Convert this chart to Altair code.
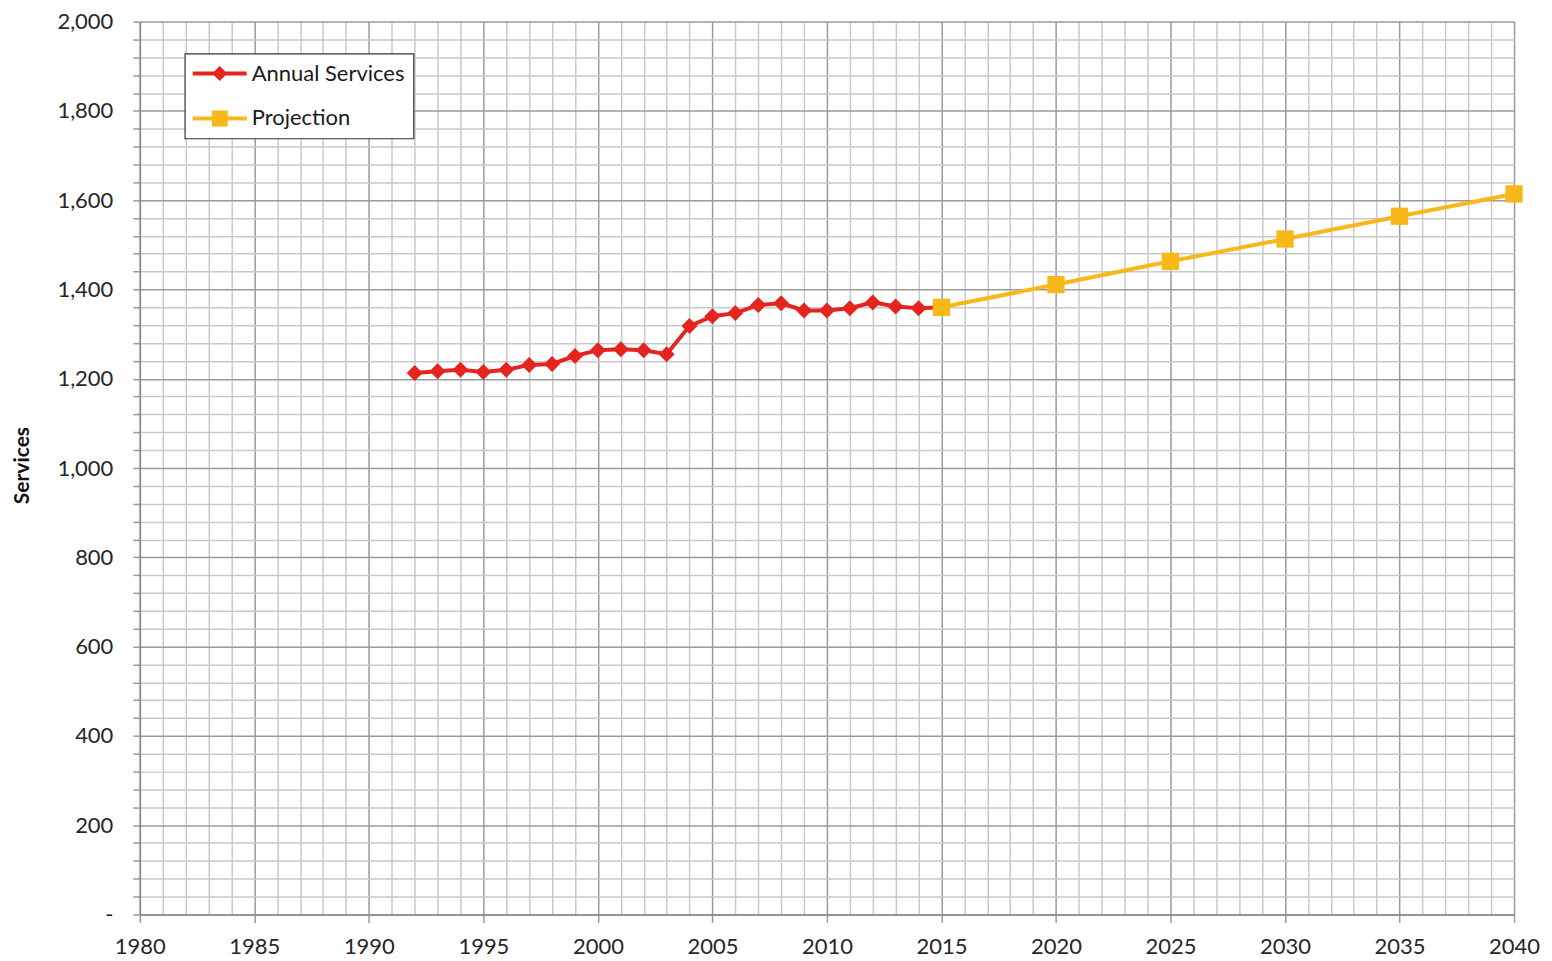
import altair as alt
import pandas as pd

# ---- data ----
annual_years = list(range(1992, 2016))
annual_values = [1213, 1217, 1220, 1215, 1220, 1231, 1233, 1251, 1264, 1266, 1264, 1255,
                 1318, 1340, 1347, 1365, 1369, 1353, 1353, 1358, 1371, 1362, 1358, 1360]
proj_years = [2015, 2020, 2025, 2030, 2035, 2040]
proj_values = [1360, 1411, 1463, 1513, 1564, 1614]
series_names = ["Annual Services", "Projection"]
series_colors = ["#E5231F", "#F8B81A"]

annual = pd.DataFrame({"year": annual_years, "value": annual_values, "series": series_names[0]})
proj = pd.DataFrame({"year": proj_years, "value": proj_values, "series": series_names[1]})
df = pd.concat([annual, proj], ignore_index=True)

FONT = "Lato"
MAJOR = "#9a9a9a"
MINOR = "#c9c9c9"

x_axis = alt.Axis(
    values=list(range(1980, 2041)),
    labelExpr="datum.value % 5 == 0 ? datum.value : ''",
    labelOverlap=False, labelFlush=False,
    labelFont=FONT, labelFontSize=22, labelColor="#262626", labelPadding=14,
    tickColor=MAJOR, tickWidth=1.5,
    tickSize={"condition": {"test": "datum.value % 5 == 0", "value": 8}, "value": 0},
    domainColor="#888", domainWidth=1.5,
    gridColor={"condition": {"test": "datum.value % 5 == 0", "value": MAJOR}, "value": MINOR},
    gridWidth=1.5, title=None,
)
y_axis = alt.Axis(
    values=list(range(0, 2001, 40)),
    labelExpr="datum.value % 200 == 0 ? (datum.value == 0 ? '-' : format(datum.value, ',')) : ''",
    labelOverlap=False, labelFlush=False,
    labelFont=FONT, labelFontSize=22, labelColor="#262626", labelPadding=20,
    tickColor=MAJOR, tickWidth=1.5, tickSize=7,
    domainColor="#888", domainWidth=1.5,
    gridColor={"condition": {"test": "datum.value % 200 == 0", "value": MAJOR}, "value": MINOR},
    gridWidth=1.5,
    title="Services", titleFont=FONT, titleFontSize=21, titleFontWeight="bold", titleColor="#111",
    titleAngle=270, titleX=-117, titleY=444, titleAlign="center", titleBaseline="middle",
)

xs = alt.X("year:Q", scale=alt.Scale(domain=[1980, 2040], nice=False, zero=False), axis=x_axis)
ys = alt.Y("value:Q", scale=alt.Scale(domain=[0, 2000], nice=False), axis=y_axis)

base = alt.Chart(df)

red_line = base.transform_filter(alt.datum.series == series_names[0]).mark_line(
    color=series_colors[0], strokeWidth=4).encode(x=xs, y=ys)
red_pts = base.transform_filter(alt.datum.series == series_names[0]).mark_point(
    shape="diamond", filled=True, size=256, opacity=1, color=series_colors[0]).encode(x=xs, y=ys)
yel_line = base.transform_filter(alt.datum.series == series_names[1]).mark_line(
    color=series_colors[1], strokeWidth=4).encode(x=xs, y=ys)
yel_pts = base.transform_filter(alt.datum.series == series_names[1]).mark_point(
    shape="square", filled=True, size=300, opacity=1, color=series_colors[1]).encode(x=xs, y=ys)

diamond_sym = "M-1.2,-0.2L4.2,-0.2L4.2,0.2L-1.2,0.2Z M1.5,-0.75L2.25,0L1.5,0.75L0.75,0Z"
square_sym = "M-1.2,-0.2L4.2,-0.2L4.2,0.2L-1.2,0.2Z M0.7,-0.8L2.3,-0.8L2.3,0.8L0.7,0.8Z"

legend = alt.Legend(
    title=None, orient="none", legendX=45, legendY=32,
    fillColor="white", strokeColor="#333", padding=9,
    symbolSize=400, rowPadding=23, labelOffset=36,
    labelFont=FONT, labelFontSize=22, labelColor="#1a1a1a", labelLimit=300,
    symbolOpacity=1, symbolStrokeWidth=0,
)

legend_layer = base.transform_filter("false").mark_point(filled=True, size=400, opacity=1).encode(
    x=xs, y=ys,
    color=alt.Color("series:N", scale=alt.Scale(domain=series_names, range=series_colors), legend=legend),
    shape=alt.Shape("series:N", scale=alt.Scale(domain=series_names, range=[diamond_sym, square_sym]), legend=legend),
)

chart = alt.layer(red_line, red_pts, yel_line, yel_pts, legend_layer).properties(
    width=1376, height=894,
    autosize=alt.AutoSizeParams(type="none"),
    padding={"left": 132, "top": 13, "right": 30, "bottom": 44},
    background="white",
).configure_view(stroke=None).configure_legend(strokeWidth=1.2)

chart.save("out.html", embed_options={"renderer": "svg", "actions": False})
